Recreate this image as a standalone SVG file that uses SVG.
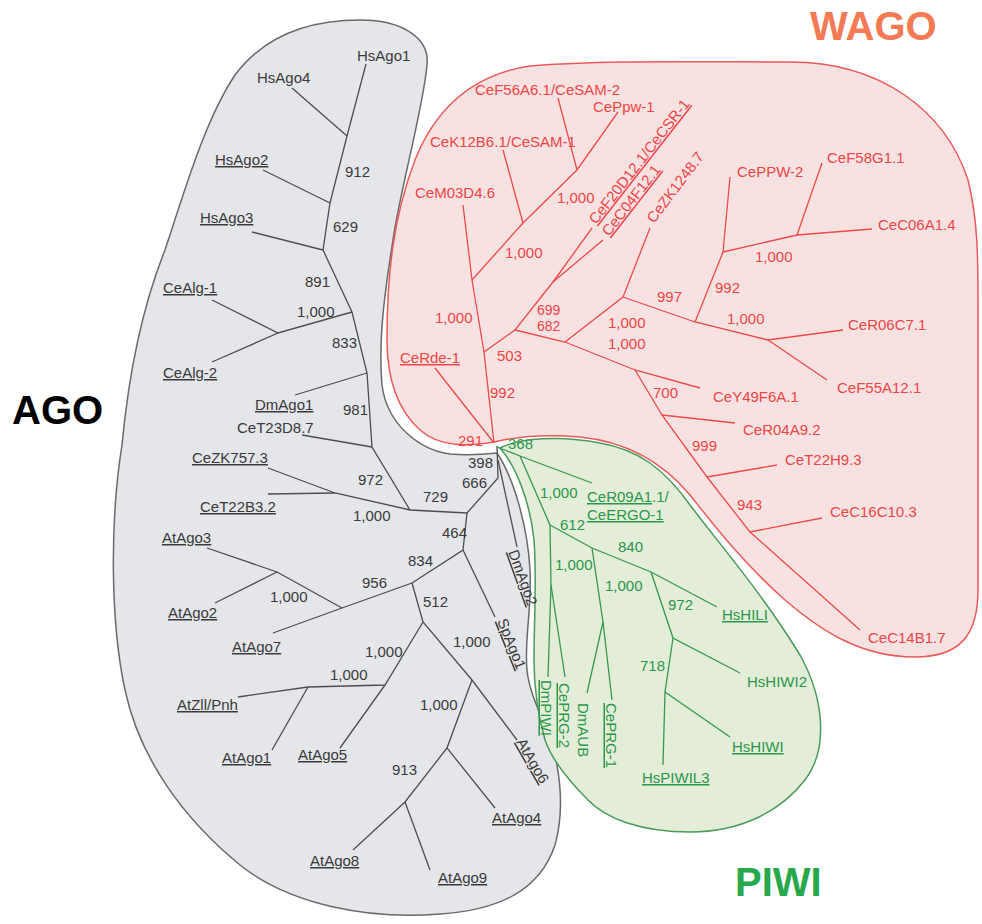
<svg xmlns="http://www.w3.org/2000/svg" width="982" height="924" viewBox="0 0 982 924">
<style>
text{font-family:"Liberation Sans",Arial,Helvetica,sans-serif;font-size:15px}
.u{text-decoration:underline}
.tg{fill:#3a3a3a}
.tr{fill:#ef4646}
.tn{fill:#2a984c}
.lg{stroke:#4e4e4e;stroke-width:1.3;fill:none}
.lr{stroke:#f04a4a;stroke-width:1.3;fill:none}
.ln{stroke:#35994f;stroke-width:1.3;fill:none}
.title{font-weight:bold;font-size:40px}
.sm{font-size:14px}
</style>
<rect width="982" height="924" fill="#ffffff"/>
<g id="regions">
<path id="region-ago" fill="#e4e6ea" stroke="#6a6a6a" stroke-width="1.5" d="M 360,20 C 405,20 430,40 427,65 C 423,110 400,190 393,240 C 385,290 378,340 382,385 C 387,425 420,450 450,454 C 470,456 488,454 497,453 C 515,480 528,530 530,570 C 532,610 524,640 527,670 C 530,700 548,725 556,760 C 562,790 562,820 555,845 C 540,890 500,910 440,914 C 370,920 290,905 240,865 C 185,820 140,760 125,690 C 110,620 110,520 122,445 C 130,360 145,300 165,250 C 185,190 205,120 235,75 C 265,35 310,20 360,20 Z"/>
<path id="region-wago" fill="#f8e1e1" stroke="#ea5a5a" stroke-width="1.5" d="M 494,442 C 470,446 440,448 420,430 C 398,410 387,380 387,340 C 387,280 392,220 415,160 C 435,110 470,75 530,66 C 600,60 700,62 790,62 C 880,62 945,110 968,180 C 978,220 978,260 978,300 L 978,590 C 978,635 960,657 915,657 C 860,657 820,630 785,600 C 740,560 710,520 690,495 C 665,465 630,442 580,437 C 545,434 515,437 494,442 Z"/>
<path id="region-piwi" fill="#e3edd8" stroke="#4a9a5c" stroke-width="1.5" d="M 500,448 C 520,438 560,435 600,443 C 640,450 665,470 690,505 C 720,545 760,590 800,655 C 825,700 828,750 805,780 C 780,812 740,832 690,832 C 640,832 605,818 588,800 C 568,780 552,760 545,740 C 538,715 534,690 534,660 C 534,620 537,580 534,540 C 530,500 515,465 500,448 Z"/>
</g>
<g id="titles">
<text class="title" x="810" y="40" fill="#f37a55">WAGO</text>
<text class="title" x="12" y="424" fill="#000000">AGO</text>
<text class="title" x="735" y="896" fill="#27a84b">PIWI</text>
</g>
<g id="connectors">
<g class="lg">
<polyline points="366,64 347,136 330,203 323,250 352,312 367,373 372,447 410,510 467,513 498,478 497,446"/>
<line x1="292" y1="88" x2="347" y2="136"/>
<line x1="263" y1="170" x2="330" y2="203"/>
<line x1="252" y1="232" x2="323" y2="250"/>
<polyline points="212,300 278,333 352,312"/>
<line x1="212" y1="362" x2="278" y2="333"/>
<line x1="295" y1="395" x2="367" y2="373"/>
<line x1="302" y1="435" x2="372" y2="447"/>
<polyline points="268,468 335,493 410,510"/>
<line x1="268" y1="494" x2="335" y2="493"/>
<line x1="498" y1="460" x2="517" y2="547"/>
<polyline points="467,513 463,550 412,583 342,608 273,633"/>
<line x1="463" y1="550" x2="495" y2="617"/>
<line x1="342" y1="608" x2="277" y2="572"/>
<line x1="277" y1="572" x2="207" y2="548"/>
<line x1="277" y1="572" x2="215" y2="603"/>
<polyline points="412,583 423,622 472,680 517,740"/>
<polyline points="423,622 385,685 308,687 238,697"/>
<line x1="308" y1="687" x2="272" y2="750"/>
<line x1="385" y1="685" x2="340" y2="748"/>
<polyline points="472,680 447,748 495,808"/>
<polyline points="447,748 405,802 353,850"/>
<line x1="405" y1="802" x2="430" y2="870"/>
</g>
<g class="lr">
<polyline points="494,443 484,352 472,280 463,205"/>
<line x1="494" y1="443" x2="435" y2="368"/>
<polyline points="472,280 523,223 577,170 618,112"/>
<line x1="523" y1="223" x2="503" y2="150"/>
<line x1="577" y1="170" x2="558" y2="98"/>
<polyline points="484,352 515,330 553,282 592,228"/>
<line x1="553" y1="282" x2="603" y2="240"/>
<polyline points="515,330 565,342 635,370 700,388"/>
<polyline points="565,342 623,297 650,228"/>
<polyline points="623,297 695,322 768,340 843,330"/>
<line x1="768" y1="340" x2="827" y2="380"/>
<polyline points="695,322 723,252 730,177"/>
<polyline points="723,252 797,235 872,229"/>
<line x1="797" y1="235" x2="822" y2="163"/>
<polyline points="635,370 662,415 707,477 750,532 860,630"/>
<line x1="662" y1="415" x2="735" y2="423"/>
<line x1="707" y1="477" x2="777" y2="465"/>
<line x1="750" y1="532" x2="822" y2="518"/>
</g>
<g class="ln">
<polyline points="497,447 520,456 592,483"/>
<polyline points="520,456 550,525 551,585 548,677"/>
<line x1="551" y1="585" x2="565" y2="677"/>
<polyline points="550,525 592,548 651,572 717,607"/>
<polyline points="592,548 603,622 587,693"/>
<line x1="603" y1="622" x2="612" y2="700"/>
<polyline points="651,572 673,638 740,673"/>
<polyline points="673,638 665,692 663,765"/>
<line x1="665" y1="692" x2="730" y2="737"/>
</g>
<g id="support-values">
<g class="tg">
<text x="345" y="177">912</text>
<text x="333" y="232">629</text>
<text x="305" y="287">891</text>
<text x="297" y="317">1,000</text>
<text x="332" y="348">833</text>
<text x="343" y="415">981</text>
<text x="358" y="485">972</text>
<text x="353" y="521">1,000</text>
<text x="423" y="502">729</text>
<text x="462" y="488">666</text>
<text x="468" y="468">398</text>
<text x="442" y="538">464</text>
<text x="408" y="566">834</text>
<text x="362" y="588">956</text>
<text x="270" y="602">1,000</text>
<text x="423" y="607">512</text>
<text x="453" y="647">1,000</text>
<text x="365" y="657">1,000</text>
<text x="330" y="680">1,000</text>
<text x="420" y="710">1,000</text>
<text x="392" y="775">913</text>
</g>
<g class="tr">
<text x="557" y="203">1,000</text>
<text x="505" y="258">1,000</text>
<text x="435" y="323">1,000</text>
<text class="sm" x="537" y="315">699</text>
<text class="sm" x="537" y="331">682</text>
<text x="497" y="361">503</text>
<text x="490" y="398">992</text>
<text x="458" y="446">291</text>
<text x="608" y="328">1,000</text>
<text x="608" y="349">1,000</text>
<text x="657" y="302">997</text>
<text x="715" y="293">992</text>
<text x="755" y="262">1,000</text>
<text x="727" y="324">1,000</text>
<text x="653" y="398">700</text>
<text x="692" y="451">999</text>
<text x="737" y="510">943</text>
</g>
<g class="tn">
<text x="508" y="449">368</text>
<text x="540" y="498">1,000</text>
<text x="560" y="530">612</text>
<text x="618" y="552">840</text>
<text x="555" y="570">1,000</text>
<text x="605" y="591">1,000</text>
<text x="668" y="610">972</text>
<text x="640" y="671">718</text>
</g>
</g>
</g>
<g id="nodes-ago" class="tg">
<g id="HsAgo1"><text x="357" y="61">HsAgo1</text></g>
<g id="HsAgo4"><text x="257" y="83">HsAgo4</text></g>
<g id="HsAgo2"><text class="u" x="215" y="165">HsAgo2</text></g>
<g id="HsAgo3"><text class="u" x="200" y="223">HsAgo3</text></g>
<g id="CeAlg-1"><text class="u" x="163" y="293">CeAlg-1</text></g>
<g id="CeAlg-2"><text class="u" x="163" y="378">CeAlg-2</text></g>
<g id="DmAgo1"><text class="u" x="255" y="410">DmAgo1</text></g>
<g id="CeT23D8.7"><text x="237" y="433">CeT23D8.7</text></g>
<g id="CeZK757.3"><text class="u" x="192" y="463">CeZK757.3</text></g>
<g id="CeT22B3.2"><text class="u" x="200" y="512">CeT22B3.2</text></g>
<g id="AtAgo3"><text class="u" x="162" y="543">AtAgo3</text></g>
<g id="AtAgo2"><text class="u" x="168" y="618">AtAgo2</text></g>
<g id="AtAgo7"><text class="u" x="232" y="652">AtAgo7</text></g>
<g id="AtZll-Pnh"><text class="u" x="177" y="710">AtZll/Pnh</text></g>
<g id="AtAgo1"><text class="u" x="222" y="763">AtAgo1</text></g>
<g id="AtAgo5"><text class="u" x="298" y="760">AtAgo5</text></g>
<g id="AtAgo8"><text class="u" x="310" y="866">AtAgo8</text></g>
<g id="AtAgo9"><text class="u" x="438" y="883">AtAgo9</text></g>
<g id="AtAgo4"><text class="u" x="492" y="823">AtAgo4</text></g>
<g id="DmAgo2"><text class="u" transform="translate(508,552) rotate(70)">DmAgo2</text></g>
<g id="SpAgo1"><text class="u" transform="translate(497,621) rotate(68)">SpAgo1</text></g>
<g id="AtAgo6"><text class="u" transform="translate(516,742) rotate(60)">AtAgo6</text></g>
</g>
<g id="nodes-wago" class="tr">
<g id="CeF56A6.1"><text x="475" y="95">CeF56A6.1/CeSAM-2</text></g>
<g id="CePpw-1"><text x="593" y="112">CePpw-1</text></g>
<g id="CeK12B6.1"><text x="430" y="147">CeK12B6.1/CeSAM-1</text></g>
<g id="CeM03D4.6"><text x="415" y="198">CeM03D4.6</text></g>
<g id="CeF20D12.1"><text class="u" transform="translate(596,225) rotate(-52)">CeF20D12.1/CeCSR-1</text></g>
<g id="CeC04F12.1"><text class="u" transform="translate(609,237) rotate(-52)">CeC04F12.1</text></g>
<g id="CeZK1248.7"><text transform="translate(654,224) rotate(-53)">CeZK1248.7</text></g>
<g id="CeRde-1"><text class="u" x="400" y="363">CeRde-1</text></g>
<g id="CePPW-2"><text x="737" y="177">CePPW-2</text></g>
<g id="CeF58G1.1"><text x="827" y="163">CeF58G1.1</text></g>
<g id="CeC06A1.4"><text x="878" y="230">CeC06A1.4</text></g>
<g id="CeR06C7.1"><text x="848" y="330">CeR06C7.1</text></g>
<g id="CeF55A12.1"><text x="837" y="393">CeF55A12.1</text></g>
<g id="CeY49F6A.1"><text x="713" y="402">CeY49F6A.1</text></g>
<g id="CeR04A9.2"><text x="743" y="435">CeR04A9.2</text></g>
<g id="CeT22H9.3"><text x="785" y="465">CeT22H9.3</text></g>
<g id="CeC16C10.3"><text x="830" y="517">CeC16C10.3</text></g>
<g id="CeC14B1.7"><text x="868" y="643">CeC14B1.7</text></g>
</g>
<g id="nodes-piwi" class="tn">
<g id="CeR09A1.1"><text x="587" y="502"><tspan class="u">CeR09A1</tspan>.1/</text><text class="u" x="587" y="520">CeERGO-1</text></g>
<g id="HsHILI"><text class="u" x="722" y="620">HsHILI</text></g>
<g id="HsHIWI2"><text x="747" y="687">HsHIWI2</text></g>
<g id="HsHIWI"><text class="u" x="732" y="752">HsHIWI</text></g>
<g id="HsPIWIL3"><text class="u" x="642" y="783">HsPIWIL3</text></g>
<g id="DmPIWI"><text class="u" transform="translate(541,680) rotate(90)">DmPIWI</text></g>
<g id="CePRG-2"><text class="u" transform="translate(559,683) rotate(90)">CePRG-2</text></g>
<g id="DmAUB"><text transform="translate(578,703) rotate(90)">DmAUB</text></g>
<g id="CePRG-1"><text class="u" transform="translate(606,703) rotate(90)">CePRG-1</text></g>
</g>
</svg>
